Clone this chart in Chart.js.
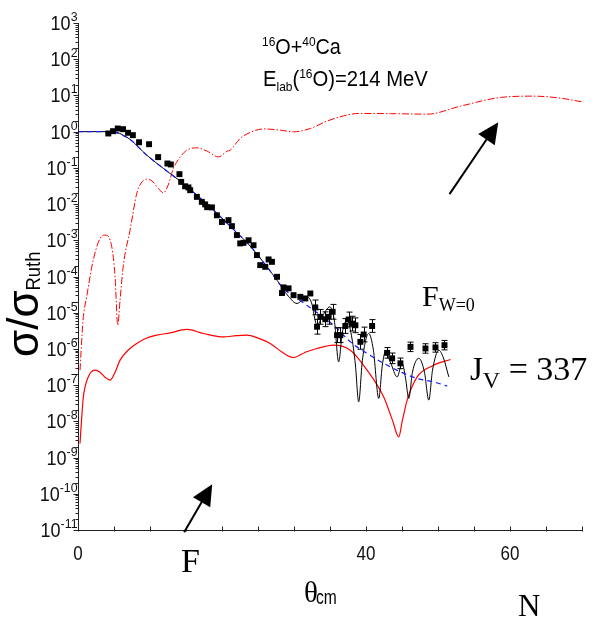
<!DOCTYPE html>
<html><head><meta charset="utf-8">
<script src="https://cdn.jsdelivr.net/npm/chart.js@4.4.1/dist/chart.umd.min.js"></script>
<style>html,body{margin:0;padding:0;background:#fff;overflow:hidden}</style>
</head><body>
<canvas id="c" width="599" height="621"></canvas>
<script>
// ---------------- DATA ----------------
// experimental points (theta_cm, sigma/sigma_Ruth, error factor)
const expAngle = [4.21,4.87,5.52,6.26,6.95,7.62,8.48,9.87,11.13,12.42,12.89,14.09,14.33,14.88,15.34,15.58,16.51,17.2,17.66,17.94,18.6,19.29,19.99,20.9,21.38,22.07,22.53,22.99,23.69,24.38,24.85,25.31,26.01,26.47,26.94,27.64,28.33,28.55,29.25,29.94,30.88,31.57,32.27,32.96,33.2,33.66,34.35,34.81,35.37,35.98,36.44,37.13,37.59,38.07,38.53,39.22,39.68,40.85,42.93,43.63,44.78,46.18,48.26,49.65,50.9];
const expSigma = [0.89,1.03,1.22,1.17,0.93,0.80,0.51,0.45,0.198,0.132,0.124,0.067,0.041,0.031,0.0288,0.0242,0.0158,0.0115,0.0098,0.0082,0.0081,0.0049,0.0032,0.0036,0.00246,0.00139,8.2e-4,8.5e-4,1.0e-3,7.3e-4,3.9e-4,2.06e-4,1.85e-4,2.96e-4,2.54e-4,9.8e-5,3.5e-5,5.0e-5,4.7e-5,3.05e-5,2.74e-5,2.48e-5,3.4e-5,1.4e-5,4.1e-6,7.7e-6,6.6e-6,7.7e-6,1.06e-5,2.4e-6,2.4e-6,4.3e-6,6.5e-6,5.0e-6,4.5e-6,1.57e-6,2.5e-6,4.3e-6,7.8e-7,5.5e-7,4.0e-7,1.14e-6,1.03e-6,1.1e-6,1.27e-6];
const expErr = [1,1,1,1,1,1,1,1,1,1,1,1,1,1,1,1,1,1,1,1,1,1,1,1,1,1,1,1,1,1,1,1,1,1,1,1,1,1,1,1,1,1,1,1.6,1.6,1.6,1.6,1.6,1.6,1.6,1.6,1.6,1.6,1.6,1.6,1.6,1.6,1.5,1.4,1.4,1.4,1.35,1.35,1.35,1.35];

// full calculation (black solid)
const fitAngle = [0,4.17,5.29,6.12,7.23,9.55,11.86,14.19,16.51,18.82,21.7,23.92,26.24,27.64,29.21,30.42,31.15,31.81,32.41,33.2,33.94,34.98,35.6,36.2,36.72,37.37,37.97,38.53,38.98,39.5,40.38,41.03,41.77,42.27,42.7,43.39,44.33,45.02,45.49,45.94,46.45,47.33,48.12,48.72,49.24,50.11,50.76,51.5];
const fitSigma = [1.0,1.0,0.97,0.83,0.61,0.224,0.0964,0.043,0.0176,6.8e-3,1.9e-3,6.9e-4,1.85e-4,7.9e-5,2.86e-5,1.8e-5,2.22e-5,2.74e-5,1.95e-5,4.5e-6,8.0e-6,1.45e-5,6.2e-6,4.4e-7,2.9e-6,6.2e-6,2.4e-6,3.6e-7,3.45e-8,4.9e-7,2.67e-6,9.2e-7,4.3e-8,3.6e-7,8.3e-7,4.3e-7,1.69e-7,4.0e-7,1.56e-7,4.3e-8,2.28e-7,5.5e-7,2.28e-7,3.85e-8,2.6e-7,9.2e-7,5.6e-7,1.69e-7];

// blue dashed curve
const blueAngle = [0,4.17,5.29,6.12,7.23,9.55,11.86,14.19,16.51,18.82,21.7,23.92,26.24,28.51,31.11,32.73,35.51,37.83,40.15,42.46,44.78,47.11,49.42,51.28];
const blueSigma = [1.0,1.0,0.94,0.80,0.61,0.224,0.0964,0.043,0.0176,6.8e-3,1.9e-3,6.9e-4,1.85e-4,4.76e-5,2.0e-5,1.17e-5,4.5e-6,1.57e-6,7.5e-7,4.0e-7,2.33e-7,1.53e-7,1.23e-7,9.4e-8];

// red solid curve
const redAngle = [0.28,0.49,0.74,1.04,1.43,1.81,2.36,3.06,3.76,4.45,5.15,5.84,6.95,8.16,9.46,10.95,12.8,15.12,17.43,20.21,21.97,23.46,25.03,26.7,28.37,29.94,31.57,33.2,35.51,37.83,40.15,42.46,43.67,44.55,45.06,45.72,47.11,49.42,51.74];
const redSigma = [2.45e-9,1.08e-8,4.7e-8,1.0e-7,1.69e-7,2.28e-7,2.6e-7,2.28e-7,1.66e-7,1.37e-7,2.28e-7,4.9e-7,9.2e-7,1.42e-6,1.98e-6,2.4e-6,2.78e-6,3.45e-6,2.67e-6,2.15e-6,2.32e-6,2.4e-6,1.98e-6,1.42e-6,8.1e-7,5.8e-7,8.1e-7,1.03e-6,1.27e-6,9.2e-7,2.6e-7,4.7e-8,1.08e-8,3.7e-9,1.08e-8,3.85e-8,1.69e-7,3.56e-7,5.1e-7];

// red dash-dot curve
const farAngle = [0.28,0.7,1.21,2.13,3.06,3.76,4.69,5.15,5.52,5.84,6.3,7.23,8.16,8.76,9.55,10.29,11.13,11.86,12.52,13.25,14.19,15.12,16.51,17.94,19.51,20.72,21.14,22.53,23.92,25.77,28.09,29.94,32.27,34.59,36.9,38.98,43.39,48.5,53.13,58.69,63.32,67.04,70];
const farSigma = [2.6e-7,6.2e-6,2.8e-5,2.9e-4,1.12e-3,1.39e-3,6.6e-4,9.8e-5,4.5e-6,2.22e-5,2.06e-4,1.9e-3,0.0196,0.0378,0.0488,0.043,0.0275,0.0204,0.0333,0.0964,0.198,0.308,0.357,0.289,0.201,0.289,0.308,0.65,0.95,1.19,1.10,0.99,1.22,1.95,2.73,3.18,3.14,3.04,5.06,8.8,9.55,8.4,6.65];

// axes
const xTickValues = [0,5,10,15,20,25,30,35,40,45,50,55,60,65,70];
const xTickLabels = [0,40,60];
const yDecades = [-11,-10,-9,-8,-7,-6,-5,-4,-3,-2,-1,0,1,2,3];

// arrows (data coordinates: [theta, sigma])
const arrows = [
  {from:[51.6,0.0188], to:[58.37,1.83]},
  {from:[14.74,8.7e-12], to:[18.64,1.84e-10]}
];

// ---------------- HELPERS ----------------
const SANS = '"Liberation Sans", Arial, sans-serif';
const SERIF = '"Liberation Serif", "Times New Roman", serif';
function pts(xa, ya){ return xa.map((v,i)=>({x:v, y:ya[i]})); }
function rich(ctx, x, y, parts){
  let cx = x;
  for (const [t, f, dy, sx] of parts){
    ctx.save(); ctx.font = f; ctx.translate(cx, y+dy); ctx.scale(sx,1);
    ctx.fillText(t, 0, 0);
    const w = ctx.measureText(t).width * sx;
    ctx.restore(); cx += w;
  }
  return cx;
}

const deco = {
  id:'deco',
  afterDatasetsDraw(chart){
    const ctx = chart.ctx, xs = chart.scales.x, ys = chart.scales.y;
    ctx.save(); ctx.strokeStyle = '#000'; ctx.lineWidth = 1;
    expAngle.forEach((a,i)=>{
      const f = expErr[i]; if (f <= 1) return;
      const px = Math.round(xs.getPixelForValue(a)) + 0.5;
      const y1 = ys.getPixelForValue(expSigma[i]*f), y2 = ys.getPixelForValue(expSigma[i]/f);
      ctx.beginPath();
      ctx.moveTo(px,y1); ctx.lineTo(px,y2);
      ctx.moveTo(px-3,y1); ctx.lineTo(px+3,y1);
      ctx.moveTo(px-3,y2); ctx.lineTo(px+3,y2);
      ctx.stroke();
    });
    ctx.restore();
  },
  afterDraw(chart){
    const ctx = chart.ctx, xs = chart.scales.x, ys = chart.scales.y;
    const ca = chart.chartArea;
    ctx.save();
    ctx.strokeStyle = '#222'; ctx.lineWidth = 1;
    const L = Math.round(ca.left)+0.5, B = Math.round(ca.bottom)+0.5;
    ctx.beginPath();
    ctx.moveTo(L, Math.round(ca.top)); ctx.lineTo(L, B);
    ctx.lineTo(Math.round(ca.right), B);
    ctx.stroke();
    // x ticks
    ctx.beginPath();
    xTickValues.forEach(v=>{ const px = Math.round(xs.getPixelForValue(v))+0.5; ctx.moveTo(px,B-4); ctx.lineTo(px,B+1); });
    // y ticks
    yDecades.forEach(d=>{
      const py = Math.round(ys.getPixelForValue(Math.pow(10,d)))+0.5;
      ctx.moveTo(L-5,py); ctx.lineTo(L,py);
      if (d < 3) for (let k=2;k<=9;k++){
        const pm = Math.round(ys.getPixelForValue(k*Math.pow(10,d)))+0.5;
        ctx.moveTo(L-3,pm); ctx.lineTo(L,pm);
      }
    });
    ctx.stroke();
    ctx.fillStyle = '#111';
    // y tick labels
    yDecades.forEach(d=>{
      const py = ys.getPixelForValue(Math.pow(10,d));
      const sup = String(d);
      ctx.font = '13px '+SANS; const sw = ctx.measureText(sup).width*0.95;
      ctx.font = '20px '+SANS; const bw = ctx.measureText('10').width*0.9;
      const x0 = L - 1 - sw - bw;
      ctx.textBaseline = 'alphabetic';
      rich(ctx, x0, py+7, [['10','20px '+SANS,0,0.9],[sup,'13px '+SANS,-9,0.95]]);
    });
    // x tick labels
    xTickLabels.forEach(v=>{
      const px = xs.getPixelForValue(v);
      ctx.font = '20px '+SANS; const w = ctx.measureText(String(v)).width*0.85;
      rich(ctx, px - w/2, 560, [[String(v),'20px '+SANS,0,0.85]]);
    });
    // arrows
    arrows.forEach(a=>{
      const x1 = xs.getPixelForValue(a.from[0]), y1 = ys.getPixelForValue(a.from[1]);
      const x2 = xs.getPixelForValue(a.to[0]), y2 = ys.getPixelForValue(a.to[1]);
      const ang = Math.atan2(y2-y1, x2-x1), hl = 21, hw = 10;
      const bx = x2 - hl*Math.cos(ang), by = y2 - hl*Math.sin(ang);
      ctx.strokeStyle = '#000'; ctx.lineWidth = 2;
      ctx.beginPath(); ctx.moveTo(x1,y1); ctx.lineTo(bx+4*Math.cos(ang),by+4*Math.sin(ang)); ctx.stroke();
      ctx.fillStyle = '#000';
      ctx.beginPath(); ctx.moveTo(x2,y2);
      ctx.lineTo(bx + hw*Math.sin(ang), by - hw*Math.cos(ang));
      ctx.lineTo(bx - hw*Math.sin(ang), by + hw*Math.cos(ang));
      ctx.closePath(); ctx.fill();
    });
    // annotations
    ctx.fillStyle = '#000';
    rich(ctx, 262, 54, [['16','13px '+SANS,-8,0.92],['O+','22px '+SANS,0,0.9],['40','13px '+SANS,-8,0.92],['Ca','22px '+SANS,0,0.9]]);
    rich(ctx, 263, 86, [['E','22px '+SANS,0,0.92],['lab','13px '+SANS,5,0.92],['(','22px '+SANS,0,0.92],['16','13px '+SANS,-8,0.92],['O)=214 MeV','22px '+SANS,0,0.92]]);
    rich(ctx, 422, 306, [['F','30px '+SERIF,0,1],['W=0','18px '+SERIF,5,1]]);
    rich(ctx, 470, 380, [['J','33px '+SERIF,0,1],['V','24px '+SERIF,8,1],[' = 337','34px '+SERIF,0,1]]);
    rich(ctx, 181, 572, [['F','34px '+SERIF,0,1]]);
    rich(ctx, 304, 602, [['θ','29px '+SERIF,0,1]]);
    rich(ctx, 316, 604, [['cm','20px '+SANS,0,0.78]]);
    rich(ctx, 518, 616, [['N','31px '+SERIF,0,1]]);
    // y axis title (rotated)
    ctx.save();
    ctx.translate(38, 357); ctx.rotate(-Math.PI/2);
    rich(ctx, 0, 0, [['σ/σ','44px '+SANS,0,1],['Ruth','20px '+SANS,2,0.92]]);
    ctx.restore();
    ctx.restore();
  }
};

// ---------------- CHART ----------------
new Chart(document.getElementById('c'), {
  type: 'line',
  data: {
    datasets: [
      {label:'exp', data: pts(expAngle, expSigma), showLine:false, pointStyle:'rect', pointRadius:4.2, pointBackgroundColor:'#000', pointBorderWidth:0, borderColor:'#000'},
      {label:'blue', data: pts(blueAngle, blueSigma), borderColor:'#1515ff', borderWidth:1.2, borderDash:[5,4], pointRadius:0, cubicInterpolationMode:'monotone', fill:false},
      {label:'fit', data: pts(fitAngle, fitSigma), borderColor:'#000', borderWidth:1, pointRadius:0, cubicInterpolationMode:'monotone', fill:false},
      {label:'red', data: pts(redAngle, redSigma), borderColor:'#ff0000', borderWidth:1.2, pointRadius:0, cubicInterpolationMode:'monotone', fill:false},
      {label:'far', data: pts(farAngle, farSigma), borderColor:'#ff0000', borderWidth:1, borderDash:[7,2,1.5,2], pointRadius:0, cubicInterpolationMode:'monotone', fill:false}
    ]
  },
  options: {
    responsive:false, devicePixelRatio:1, animation:false,
    layout:{padding:{left:78, top:23, right:17, bottom:91}},
    plugins:{legend:{display:false}, tooltip:{enabled:false}},
    scales:{
      x:{type:'linear', min:0, max:70, display:false},
      y:{type:'logarithmic', min:1e-11, max:1e3, display:false}
    }
  },
  plugins:[deco]
});
</script>
</body></html>
